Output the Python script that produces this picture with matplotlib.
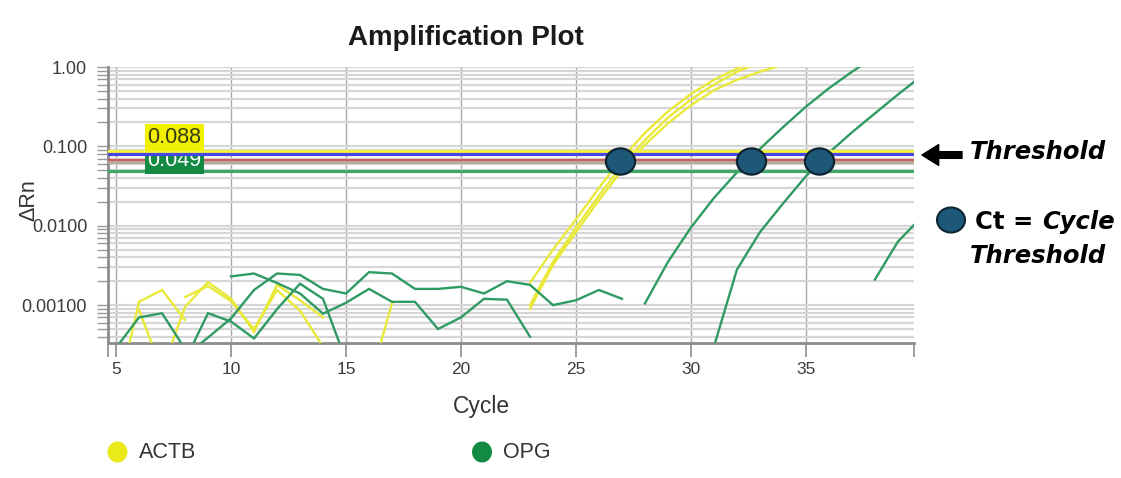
import matplotlib
matplotlib.use('Agg')
import matplotlib.pyplot as plt
from matplotlib.patches import Ellipse
from matplotlib.path import Path
from matplotlib.transforms import Affine2D
from matplotlib.ticker import LogLocator, NullFormatter
import numpy as np

plt.rcParams['font.family'] = ['Liberation Sans', 'DejaVu Sans']

# each trace: (first cycle, dRn per cycle); None = not drawn (dRn <= 0)
actb_traces = [
    (5, [0.00006, 0.0011, 0.00155, 0.00065, None, None, None, None, None, None, None, 0.0001, 0.00105]),
    (6, [0.00087, 0.00015, 0.00095, 0.00195, 0.0012, 0.00046, 0.0018, 0.00115, 0.0007]),
    (8, [0.00126, 0.00174, 0.00112, 0.0005, 0.00155, 0.00085, 0.0003]),
    (23, [0.0019, 0.005, 0.012, 0.030, 0.071, 0.148, 0.275, 0.457, 0.69, 0.955, 1.26]),
    (23, [0.001, 0.0035, 0.0095, 0.024, 0.0575, 0.12, 0.23, 0.39, 0.60, 0.87, 1.15]),
    (23, [0.0009, 0.0032, 0.0083, 0.021, 0.05, 0.105, 0.195, 0.33, 0.51, 0.69, 0.87, 1.07]),
]
opg_traces = [
    (5, [0.00029, 0.0007, 0.00079, 0.00028]),
    (8, [0.0002, 0.00079, 0.00062, 0.00038, 0.00089, 0.00186, 0.0012, 0.0002]),
    (8, [0.00023, 0.00039, 0.00068, 0.00155, 0.0025, 0.0024, 0.0016, 0.0014, 0.0026, 0.0025,
         0.0016, 0.0016, 0.0017, 0.0014, 0.002, 0.0018, 0.001, 0.00115, 0.00155, 0.0012]),
    (10, [0.0023, 0.0025, 0.0019, 0.0014, 0.00078, 0.00107, 0.0016, 0.0011, 0.0011, 0.0005,
          0.0007, 0.0012, 0.00117, 0.0004]),
    (28, [0.00105, 0.0035, 0.0095, 0.0224, 0.047, 0.093, 0.174, 0.316, 0.54, 0.87, 1.35]),
    (31, [0.0003, 0.0028, 0.0083, 0.019, 0.042, 0.083, 0.15, 0.26, 0.45, 0.76]),
    (38, [0.0021, 0.0063, 0.0126]),
]

thresholds = [0.088, 0.079, 0.068, 0.064, 0.049]
threshold_colors = ['#f4f43a', '#4646e6', '#cc5a5a', '#b8a898', '#3fa867']
ct_cycles = [26.9, 32.6, 35.55]
ct_level = 0.066

x_ticks = [5, 10, 15, 20, 25, 30, 35]
y_ticks = [0.001, 0.01, 0.1, 1.0]
y_labels = ['0.00100', '0.0100', '0.100', '1.00']

ACTB_COLOR = '#e9e93a'
OPG_COLOR = '#2f9a62'

W, H = 1121, 478
fig = plt.figure(figsize=(W / 100, H / 100), dpi=100)
ax = fig.add_axes([108 / W, 1 - 343 / H, (914 - 108) / W, (343 - 67) / H])


def draw_traces(traces, color):
    for start, values in traces:
        x = np.arange(start, start + len(values))
        y = np.array([np.nan if v is None else v for v in values], dtype=float)
        ax.plot(x, y, color=color, lw=1.7, zorder=3, solid_joinstyle='miter')


draw_traces(actb_traces, ACTB_COLOR)
draw_traces(opg_traces, OPG_COLOR)

ax.set_yscale('log')
ax.set_xlim(4.65, 39.7)
ax.set_ylim(0.000333, 1.0)

# grid
ax.yaxis.set_minor_locator(LogLocator(base=10, subs=np.arange(2, 10)))
ax.yaxis.set_minor_formatter(NullFormatter())
ax.set_yticks(y_ticks)
ax.set_yticklabels(y_labels)
ax.set_xticks(x_ticks)
ax.set_xticks(list(ax.get_xlim()), minor=True)
ax.grid(True, which='both', axis='y', color='#d6d6d6', lw=1.6)
ax.grid(True, which='major', axis='x', color='#a8a8a8', lw=1)
ax.set_axisbelow(True)

for s in ['top', 'right']:
    ax.spines[s].set_visible(False)
for s in ['left', 'bottom']:
    ax.spines[s].set_color('#8c8c8c')
    ax.spines[s].set_linewidth(2)

ax.tick_params(axis='y', which='both', direction='out', length=8, width=1, color='#9a9a9a',
               labelsize=13, labelcolor='#3c3c3c', pad=7)
ax.tick_params(axis='x', which='both', direction='out', length=10, width=1.2, color='#8c8c8c',
               labelsize=12.5, labelcolor='#3c3c3c', pad=4)

# threshold lines
zs = [6, 6, 4, 4, 4]
for v, c, z in zip(thresholds, threshold_colors, zs):
    ax.axhline(v, color=c, lw=2.3, zorder=z)

ax.annotate('0.088', xy=(6.35, thresholds[0]), xytext=(0, 2), textcoords='offset points',
            ha='left', va='bottom', fontsize=15.5, color='#3a3a10', zorder=7,
            bbox=dict(boxstyle='square,pad=0.12', fc='#f0f000', ec='none'))
ax.annotate('0.049', xy=(6.35, thresholds[1]), xytext=(0, 3), textcoords='offset points',
            ha='left', va='top', fontsize=15.5, color='white', zorder=5,
            bbox=dict(boxstyle='square,pad=0.12', fc='#128a42', ec='none'))

# Ct dots
ell = Path.unit_circle().transformed(Affine2D().scale(1.0, 0.9))
ax.scatter(ct_cycles, [ct_level] * len(ct_cycles), marker=ell, s=440, color='#1d5878',
           edgecolors='#0e2433', linewidths=1.6, zorder=8, clip_on=False)

# titles and labels
fig.text(466 / W, 1 - 38 / H, 'Amplification Plot', ha='center', va='center',
         fontsize=20, fontweight='bold', color='#1a1a1a')
fig.text(481 / W, 1 - 407 / H, 'Cycle', ha='center', va='center', fontsize=16.5, color='#333333')
fig.text(29 / W, 1 - 200 / H, '\u0394Rn', ha='center', va='center', rotation=90,
         fontsize=15.5, color='#333333')

# legend
for cx, name, col in [(117.5, 'ACTB', '#eaea1a'), (482, 'OPG', '#138a44')]:
    fig.add_artist(Ellipse((cx / W, 1 - 452 / H), 20 / W, 21 / H, transform=fig.transFigure,
                           fc=col, ec='none'))
    fig.text((cx + 21) / W, 1 - 452 / H, name, ha='left', va='center', fontsize=15.5, color='#333333')

# right-side notes
ax.annotate('', xy=(922 / W, 1 - 155 / H), xycoords='figure fraction',
            xytext=(962 / W, 1 - 155 / H), textcoords='figure fraction',
            arrowprops=dict(arrowstyle='simple,head_width=0.75,head_length=0.6,tail_width=0.24',
                            fc='black', ec='black', mutation_scale=20, shrinkA=0, shrinkB=0))
note_font = dict(family='DejaVu Sans', fontsize=17.5, fontweight='bold', color='black')
fig.text(970 / W, 1 - 152 / H, 'Threshold', ha='left', va='center', style='italic', **note_font)

fig.add_artist(Ellipse((951 / W, 1 - 220 / H), 28 / W, 25 / H, transform=fig.transFigure,
                       fc='#1d5878', ec='#0e2433', lw=1.5))
t1 = fig.text(975 / W, 1 - 222 / H, 'Ct = ', ha='left', va='center', **note_font)
fig.canvas.draw()
bb = t1.get_window_extent()
fig.text(bb.x1 / W, 1 - 222 / H, 'Cycle', ha='left', va='center', style='italic', **note_font)
fig.text(970 / W, 1 - 256 / H, 'Threshold', ha='left', va='center', style='italic', **note_font)

fig.savefig('out.png', dpi=100, facecolor='white')
